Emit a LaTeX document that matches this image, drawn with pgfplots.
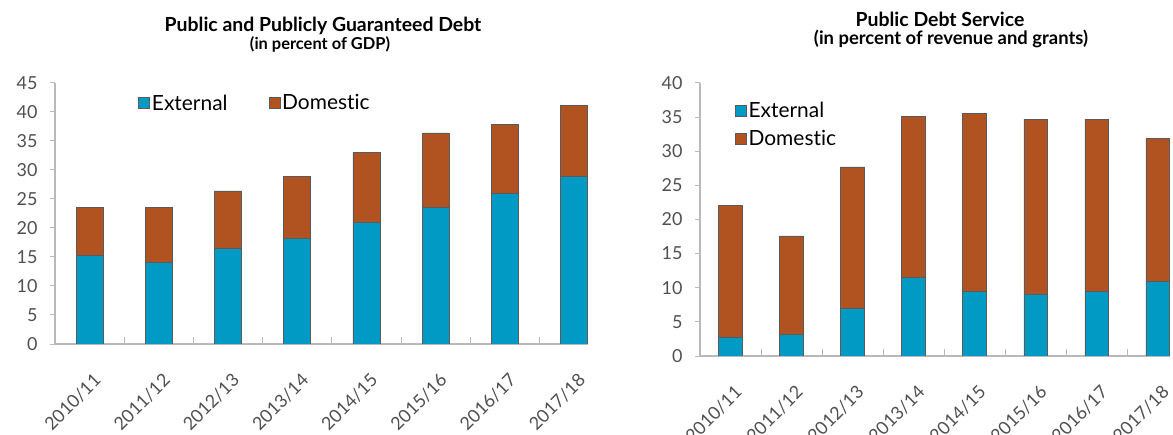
\documentclass[border=0pt]{standalone}
\usepackage{fontspec}
\setmainfont{Lato}[Ligatures=NoCommon]
\usepackage{pgfplots}
\pgfplotsset{compat=1.18}
\definecolor{ext}{RGB}{0,154,196}
\definecolor{dom}{RGB}{176,83,32}
\definecolor{axgray}{RGB}{185,185,185}
\definecolor{txtgray}{RGB}{80,80,80}
\definecolor{edge}{RGB}{90,90,90}
\pgfplotsset{
  mybars/.style={
    scale only axis, ybar stacked, bar width=0.39, enlargelimits=false,
    xmin=-0.5, xmax=7.2, ymin=0,
    axis x line*=bottom, axis y line*=left,
    axis line style={axgray, line width=1.3bp, -},
    xtick={0,...,7},
    xticklabels={2010/11,2011/12,2012/13,2013/14,2014/15,2015/16,2016/17,2017/18},
    xtick style={draw=none},
    extra x ticks={0.5,1.5,2.5,3.5,4.5,5.5,6.5},
    extra x tick labels={},
    extra x tick style={xtick style={draw=axgray, line width=1bp}, major tick length=7bp, tick align=inside},
    major tick length=5bp, tick align=outside,
    ytick style={draw=axgray, line width=1bp},
    /pgf/number format/assume math mode=true,
    yticklabel style={font=\fontsize{18}{18}\selectfont, text=txtgray, xshift=-9bp},
    xticklabel style={font=\fontsize{18}{18}\selectfont, text=txtgray, inner sep=0pt, xshift=3bp, yshift=-23bp, rotate=45, anchor=north east},
    legend style={draw=none, fill=none, font=\fontsize{21}{24}\selectfont, text=black, inner sep=0pt},
    legend image code/.code={\draw[#1, draw=edge, line width=0.6bp] (0bp,-5.5bp) rectangle (11bp,5.5bp);},
    every axis plot/.append style={draw=edge, line width=0.6bp},
  }
}
\begin{document}
\begin{tikzpicture}
\path[use as bounding box] (0,0) rectangle (1173bp,435bp);
\node[anchor=base, font=\bfseries\fontsize{19.5}{19.5}\selectfont] at (323bp,403bp) {Public and Publicly Guaranteed Debt};
\node[anchor=base, font=\bfseries\fontsize{16.5}{16.5}\selectfont] at (320bp,385bp) {(in percent of GDP)};
\node[anchor=base, font=\bfseries\fontsize{19.5}{19.5}\selectfont] at (940bp,408bp) {Public Debt Service};
\node[anchor=base, font=\bfseries\fontsize{18.5}{18.5}\selectfont] at (951bp,390bp) {(in percent of revenue and grants)};

\begin{axis}[mybars, at={(55bp,91bp)}, anchor=south west, width=533bp, height=261bp,
  ymax=45, ytick={0,5,...,45},
  legend columns=2,
  legend style={at={(0.156,0.923)}, anchor=west, /tikz/every even column/.append style={column sep=39bp}},
  legend cell align=left]
\addplot[fill=ext] coordinates {(0,15.3) (1,14.1) (2,16.5) (3,18.2) (4,21.0) (5,23.6) (6,26.0) (7,28.9)};
\addplot[fill=dom] coordinates {(0,8.3) (1,9.5) (2,9.9) (3,10.7) (4,12.0) (5,12.8) (6,11.9) (7,12.3)};
\legend{External,Domestic}
\end{axis}

\begin{axis}[mybars, at={(700bp,79bp)}, anchor=south west, width=470bp, height=273bp,
  ymax=40, ytick={0,5,...,40},
  legend style={at={(0.074,0.848)}, anchor=west, row sep=7bp},
  legend cell align=left]
\addplot[fill=ext] coordinates {(0,2.8) (1,3.2) (2,7.0) (3,11.5) (4,9.5) (5,9.1) (6,9.5) (7,10.9)};
\addplot[fill=dom] coordinates {(0,19.3) (1,14.4) (2,20.7) (3,23.6) (4,26.0) (5,25.6) (6,25.2) (7,21.0)};
\legend{External,Domestic}
\end{axis}
\end{tikzpicture}
\end{document}
